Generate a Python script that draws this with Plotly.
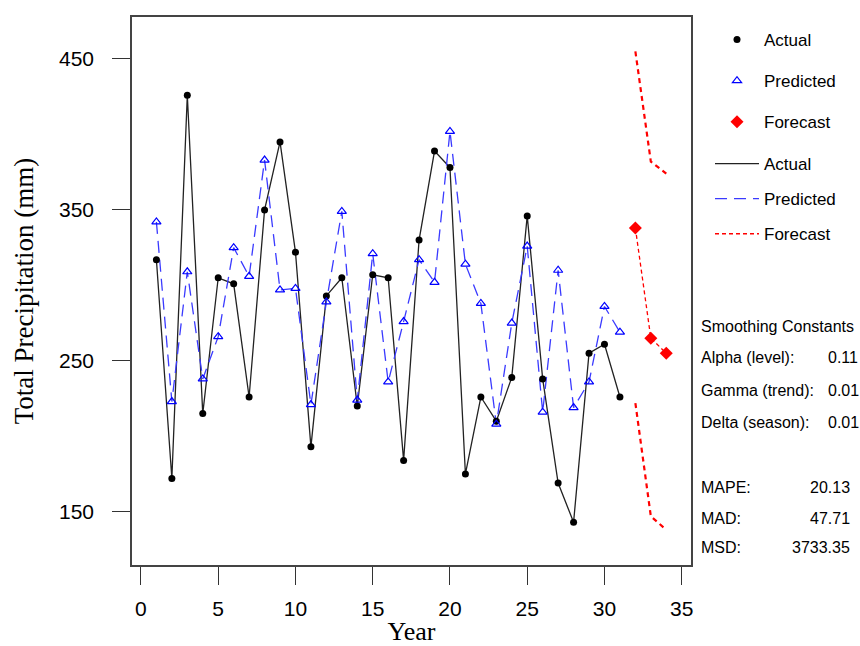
import plotly.graph_objects as go

# ---- data ----
years = list(range(1, 32))
actual = [317, 172, 426, 215, 305, 301, 226, 350, 395, 322, 193, 293, 305, 220, 307,
          305, 184, 330, 389, 378, 175, 226, 210, 239, 346, 238, 169, 143, 255, 261, 226]
predicted = [342, 223, 309, 238, 266, 325, 306, 383, 297, 298, 221, 289, 349, 224, 321,
             236, 276, 317, 302, 402, 314, 288, 208, 275, 326, 216, 310, 219, 236, 286, 269]
forecast_years = [32, 33, 34]
forecast = [338, 265, 255]
upper = [455, 382, 374]
lower = [222, 147, 138]

x_ticks = [0, 5, 10, 15, 20, 25, 30, 35]
y_ticks = [150, 250, 350, 450]

stats_title = "Smoothing Constants"
smoothing_labels = ["Alpha (level):", "Gamma (trend):", "Delta (season):"]
smoothing_values = ["0.11", "0.01", "0.01"]
accuracy_labels = ["MAPE:", "MAD:", "MSD:"]
accuracy_values = ["20.13", "47.71", "3733.35"]

# ---- layout geometry (pixels) ----
W, H = 860, 646
L, R, T, B = 132, 169, 17, 81
PW, PH = W - L - R, H - T - B


def px(xp):
    return (xp - L) / PW


def py(yp):
    return (H - B - yp) / PH


SANS = "Liberation Sans, Arial, sans-serif"
SERIF = "Liberation Serif, Times New Roman, serif"

fig = go.Figure()

# lines (legend 2)
fig.add_trace(go.Scatter(x=years, y=actual, mode="lines", name="Actual",
                         line=dict(color="#222222", width=1.3),
                         legend="legend2", legendgroup="la"))
fig.add_trace(go.Scatter(x=years, y=predicted, mode="lines", name="Predicted",
                         line=dict(color="#3a3aff", width=1.3, dash="12px,7px"),
                         legend="legend2", legendgroup="lp"))
fig.add_trace(go.Scatter(x=forecast_years, y=forecast, mode="lines", name="Forecast",
                         line=dict(color="#ff0000", width=1.3, dash="4px,3px"),
                         legend="legend2", legendgroup="lf"))
fig.add_trace(go.Scatter(x=forecast_years, y=upper, mode="lines", showlegend=False,
                         line=dict(color="#ff0000", width=2.2, dash="5px,4px")))
fig.add_trace(go.Scatter(x=forecast_years, y=lower, mode="lines", showlegend=False,
                         line=dict(color="#ff0000", width=2.2, dash="5px,4px")))

# markers (legend 1)
fig.add_trace(go.Scatter(x=years, y=actual, mode="markers", name="Actual",
                         marker=dict(color="black", size=7, symbol="circle"),
                         legend="legend", legendgroup="ma"))
fig.add_trace(go.Scatter(x=years, y=predicted, mode="markers", name="Predicted",
                         marker=dict(color="#0000ff", size=8, symbol="triangle-up-open",
                                     line=dict(width=1.2)),
                         legend="legend", legendgroup="mp"))
fig.add_trace(go.Scatter(x=forecast_years, y=forecast, mode="markers", name="Forecast",
                         marker=dict(color="#ff0000", size=10, symbol="diamond"),
                         legend="legend", legendgroup="mf"))

TXT = dict(family=SANS, size=16, color="black")
annotations = []
annotations.append(dict(x=px(699), y=py(326), xref="paper", yref="paper", text=stats_title,
                        showarrow=False, xanchor="left", yanchor="middle", font=TXT))
for i, (lab, val) in enumerate(zip(smoothing_labels, smoothing_values)):
    yy = [357, 390, 422][i]
    annotations.append(dict(x=px(699), y=py(yy), xref="paper", yref="paper", text=lab,
                            showarrow=False, xanchor="left", yanchor="middle", font=TXT))
    annotations.append(dict(x=px(826), y=py(yy), xref="paper", yref="paper", text=val,
                            showarrow=False, xanchor="left", yanchor="middle", font=TXT))
for i, (lab, val) in enumerate(zip(accuracy_labels, accuracy_values)):
    yy = [487, 518, 547][i]
    annotations.append(dict(x=px(699), y=py(yy), xref="paper", yref="paper", text=lab,
                            showarrow=False, xanchor="left", yanchor="middle", font=TXT))
    annotations.append(dict(x=px(852), y=py(yy), xref="paper", yref="paper", text=val,
                            showarrow=False, xanchor="right", yanchor="middle", font=TXT))

legend_common = dict(xanchor="left", yanchor="top", bgcolor="rgba(0,0,0,0)",
                     borderwidth=0, font=dict(family=SANS, size=17, color="black"),
                     itemwidth=44, traceorder="grouped")

fig.update_layout(
    width=W, height=H,
    margin=dict(l=L, r=R, t=T, b=B),
    paper_bgcolor="white", plot_bgcolor="white",
    showlegend=True,
    legend=dict(x=px(710), y=py(22), tracegroupgap=16, **legend_common),
    legend2=dict(x=px(710), y=py(146), tracegroupgap=10, **legend_common),
    annotations=annotations,
    xaxis=dict(range=[-0.58, 35.6], tickvals=x_ticks, ticks="outside", ticklen=18,
               tickwidth=1.3, tickcolor="#333", showline=True, mirror=True,
               linecolor="#444", linewidth=1.6, showgrid=False, zeroline=False,
               ticklabelstandoff=6, automargin=False,
               tickfont=dict(family=SANS, size=21, color="black"),
               title=dict(text="Year", standoff=11,
                          font=dict(family=SERIF, size=26, color="black"))),
    yaxis=dict(range=[114.7, 477.8], tickvals=y_ticks, ticks="outside", ticklen=18,
               tickwidth=1.3, tickcolor="#333", showline=True, mirror=True,
               linecolor="#444", linewidth=1.6, showgrid=False, zeroline=False,
               ticklabelstandoff=14, automargin=False,
               tickfont=dict(family=SANS, size=21, color="black"),
               title=dict(text="Total Precipitation (mm)", standoff=18,
                          font=dict(family=SERIF, size=27, color="black"))),
)

fig.write_html("out.html")
